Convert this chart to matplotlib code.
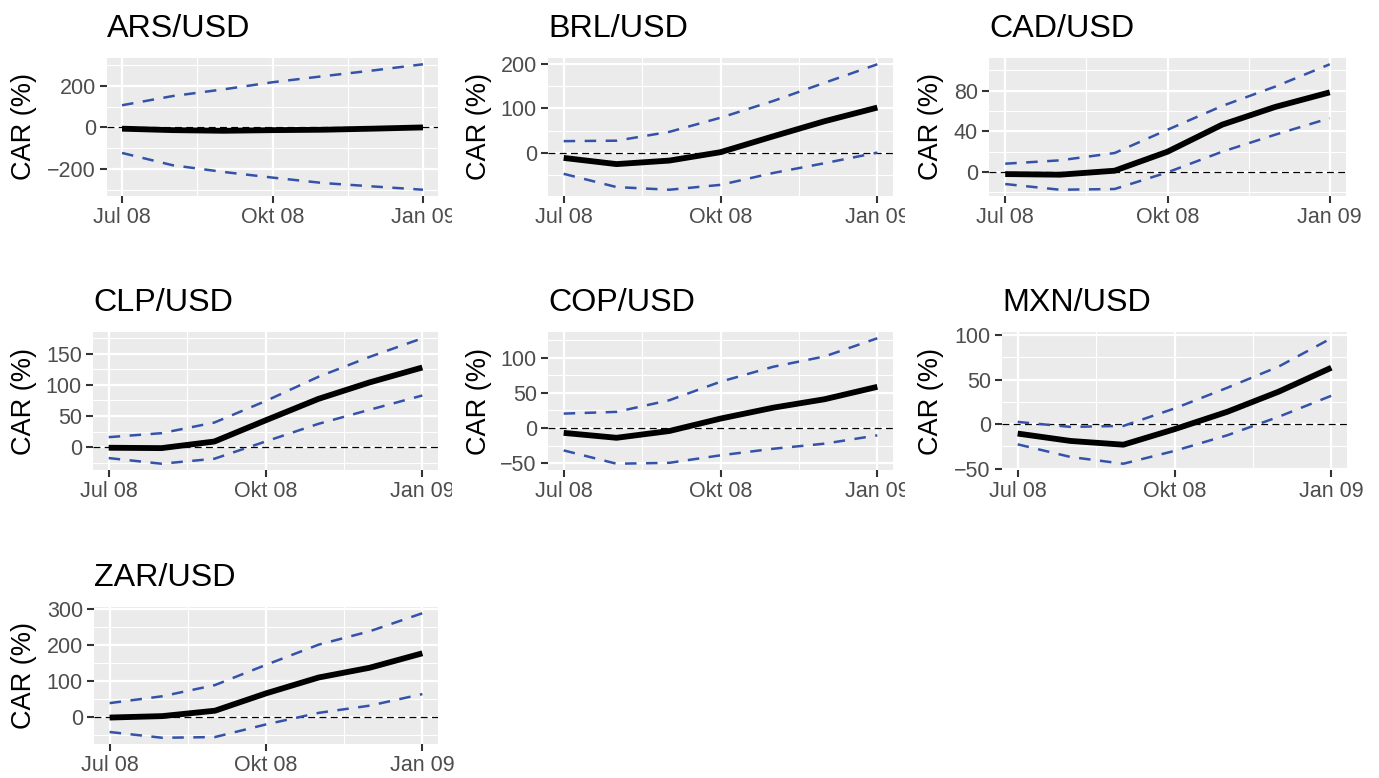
import matplotlib
matplotlib.use('Agg')
import matplotlib.pyplot as plt
import matplotlib.dates as mdates
from matplotlib.transforms import Bbox, TransformedBbox
import numpy as np
import pandas as pd

plt.rcParams['font.family'] = ['Liberation Sans', 'DejaVu Sans']

# monthly event window
months = pd.date_range('2008-07-01', periods=7, freq='MS')
tick_dates = pd.to_datetime(['2008-07-01', '2008-10-01', '2009-01-01'])
tick_labels = ['Jul 08', 'Okt 08', 'Jan 09']

pairs = ['ARS/USD', 'BRL/USD', 'CAD/USD', 'CLP/USD', 'COP/USD', 'MXN/USD', 'ZAR/USD']

# cumulative abnormal returns (%) with upper / lower bands
ars_car = [-6, -13, -16, -13, -11, -6, 0]
ars_upper = [106, 150, 182, 216, 245, 272, 302]
ars_lower = [-122, -181, -213, -240, -266, -282, -298]

brl_car = [-12, -26, -18, 1, 37, 71, 102]
brl_upper = [26, 27, 47, 79, 117, 158, 200]
brl_lower = [-48, -78, -84, -73, -46, -24, 0]

cad_car = [-2, -2.6, 1.3, 20, 46.6, 64, 78.4]
cad_upper = [8.2, 11.5, 18.7, 41.6, 65, 84, 106]
cad_lower = [-11.8, -17.4, -16.7, -0.3, 20, 36.7, 53]

clp_car = [-1, -1.6, 9, 43, 77.5, 104, 128]
clp_upper = [16, 22.4, 39.5, 74, 113, 145, 175]
clp_lower = [-17.6, -26.7, -18.7, 9, 37.4, 60, 83]

cop_car = [-7, -14, -4.3, 13.4, 29, 41, 58.7]
cop_upper = [20.5, 23, 39.6, 66, 87.4, 102, 128]
cop_lower = [-32, -51, -49.7, -39, -29.6, -22.4, -10.5]

mxn_car = [-10.5, -18.8, -23, -5.6, 14, 36.5, 63.5]
mxn_upper = [2.6, -3, -1.9, 17.7, 41, 64.7, 96.6]
mxn_lower = [-22.6, -36.8, -44.4, -30, -12.4, 8.3, 32]

zar_car = [-1, 3, 18, 66, 110, 137, 177]
zar_upper = [39, 58, 89, 145, 201, 238, 288]
zar_lower = [-41, -57, -55, -20, 12, 32, 64]

car_series = [ars_car, brl_car, cad_car, clp_car, cop_car, mxn_car, zar_car]
upper_series = [ars_upper, brl_upper, cad_upper, clp_upper, cop_upper, mxn_upper, zar_upper]
lower_series = [ars_lower, brl_lower, cad_lower, clp_lower, cop_lower, mxn_lower, zar_lower]

y_breaks = [
    [-200, 0, 200],
    [0, 100, 200],
    [0, 40, 80],
    [0, 50, 100, 150],
    [-50, 0, 50, 100],
    [-50, 0, 50, 100],
    [0, 100, 200, 300],
]

# panel boxes in pixels: left, top, right, bottom
W, H = 1379, 778
panel_px = [
    (107, 58, 438, 196),
    (548, 58, 893, 196),
    (989, 58, 1346, 196),
    (93, 332, 438, 470),
    (548, 332, 893, 470),
    (1002, 332, 1347, 470),
    (94, 607, 438, 744),
]
ylabel_x = [24, 479, 931]
label_clip_right = [452, 905, None]

BG = '#EBEBEB'
BLUE = '#3452A8'

fig = plt.figure(figsize=(W / 100, H / 100), dpi=100)

for i, name in enumerate(pairs):
    l, t, r, b = panel_px[i]
    ax = fig.add_axes([l / W, 1 - b / H, (r - l) / W, (b - t) / H])
    ax.set_facecolor(BG)
    for s in ax.spines.values():
        s.set_visible(False)

    car = np.array(car_series[i])
    up = np.array(upper_series[i])
    lo = np.array(lower_series[i])

    ax.axhline(0, color='black', lw=0.9, linestyle=(0, (5.5, 3.5)), zorder=3)
    ax.plot(months, up, color=BLUE, lw=1.8, linestyle=(0, (4.6, 3.8)), zorder=4)
    ax.plot(months, lo, color=BLUE, lw=1.8, linestyle=(0, (4.6, 3.8)), zorder=4)
    ax.plot(months, car, color='black', lw=4.2, solid_capstyle='butt', zorder=5)

    # ggplot style 5% expansion
    x0, x1 = mdates.date2num(months[0]), mdates.date2num(months[-1])
    dx = (x1 - x0) * 0.05
    ax.set_xlim(x0 - dx, x1 + dx)
    ymin = min(lo.min(), car.min(), 0)
    ymax = max(up.max(), car.max(), 0)
    dy = (ymax - ymin) * 0.05

    ax.set_xticks(mdates.date2num(tick_dates))
    ax.set_xticklabels(tick_labels)
    xt = mdates.date2num(tick_dates)
    ax.set_xticks((xt[:-1] + xt[1:]) / 2, minor=True)

    yb = y_breaks[i]
    ax.set_yticks(yb)
    step = yb[1] - yb[0]
    ax.set_yticks(np.arange(yb[0] - step / 2, yb[-1] + step, step), minor=True)
    ax.set_ylim(ymin - dy, ymax + dy)

    ax.grid(True, which='major', color='white', lw=1.6)
    ax.grid(True, which='minor', color='white', lw=0.8)
    ax.set_axisbelow(True)
    ax.tick_params(which='major', length=5, width=1.5, color='#333333',
                   labelsize=15.5, labelcolor='#4D4D4D', pad=3)
    ax.tick_params(which='minor', length=0)

    ax.annotate(name, xy=(0, 1), xycoords='axes fraction', xytext=(0, 15),
                textcoords='offset points', ha='left', va='baseline',
                fontsize=23.2, color='black')

    col = i % 3
    fig.text(ylabel_x[col] / W, 1 - (t + b) / 2 / H, 'CAR (%)', rotation=90,
             ha='center', va='center', fontsize=19.5, color='black')

    # the next panel hides the overflowing "Jan 09" label
    clip_r = label_clip_right[col]
    if clip_r is not None and i < 6:
        box = TransformedBbox(Bbox.from_extents(0, 0, clip_r / W, 1), fig.transFigure)
        for lbl in ax.get_xticklabels():
            lbl.set_clip_on(True)
            lbl.set_clip_box(box)

fig.savefig('out.png', dpi=100, facecolor='white')
